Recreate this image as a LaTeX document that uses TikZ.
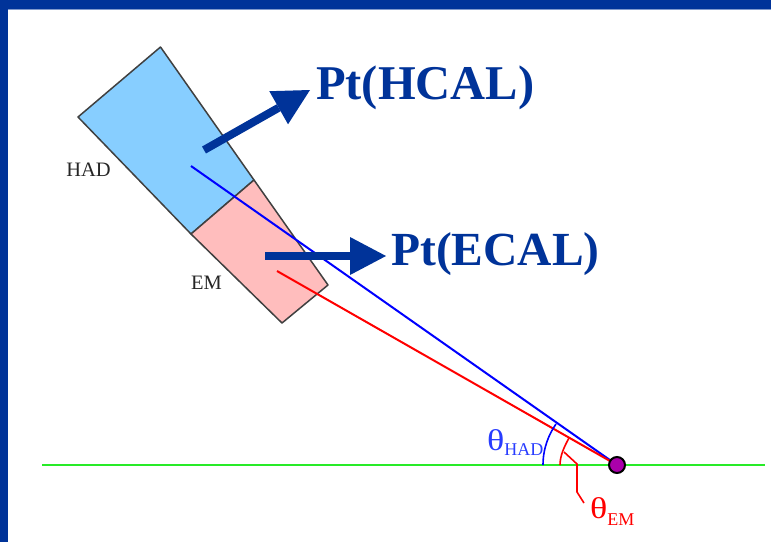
\documentclass[tikz,border=0pt]{standalone}
\usepackage{fontspec}
\setmainfont{Liberation Serif}
\usetikzlibrary{arrows.meta}
\definecolor{frameblue}{RGB}{0,51,153}
\definecolor{hadfill}{RGB}{135,206,255}
\definecolor{emfill}{RGB}{255,189,189}
\definecolor{dotfill}{RGB}{170,0,170}
\tikzset{
  x=1pt,y=-1pt,
  tower/.style={draw=black!75,line width=1.5pt,line join=round},
  bigtext/.style={font=\fontsize{48.5}{48.5}\selectfont\bfseries,text=frameblue,inner sep=0pt,anchor=base west},
  smalltext/.style={font=\fontsize{20.5}{20.5}\selectfont,text=black!85,inner sep=0pt},
  thetatext/.style={font=\fontsize{30}{30}\selectfont,inner sep=0pt,anchor=base west},
  bigarrow/.style={draw=frameblue,line width=8pt,-{Triangle[length=36pt,width=38pt,line width=0pt]}},
  ray/.style={line width=2pt},
}
\newcommand{\wtheta}{\scalebox{1.2}[1]{θ}}
\newcommand{\subtxt}[2]{\raisebox{#1}{\fontsize{18}{18}\selectfont #2}}
\begin{document}
\begin{tikzpicture}
\useasboundingbox (0,0) rectangle (771,542);
\fill[white] (0,0) rectangle (771,542);
\fill[frameblue] (0,0) rectangle (771,9);
\fill[frameblue] (0,0) rectangle (8,542);
\fill[frameblue!50!white] (8,9) rectangle (771,10);
% towers
\coordinate (hadT) at (160.5,47);
\coordinate (hadL) at (78,117);
\coordinate (midL) at (191,234);
\coordinate (midR) at (254,180);
\coordinate (emR) at (328,285);
\coordinate (emB) at (282,323);
\draw[tower,fill=hadfill] (hadT) -- (hadL) -- (midL) -- (midR) -- cycle;
\draw[tower,fill=emfill] (midL) -- (midR) -- (emR) -- (emB) -- cycle;
% beam
\coordinate (beamL) at (42,465);
\coordinate (beamR) at (765,465);
\draw[draw={rgb,255:red,40;green,235;blue,40},line width=2.4pt] (beamL) -- (beamR);
% rays
\coordinate (ip) at (617,465);
\coordinate (blueEnd) at (191,166);
\coordinate (redEnd) at (277,271);
\draw[ray,blue] (blueEnd) -- (ip);
\draw[ray,red] (redEnd) -- (ip);
\node[circle,draw=black,line width=2pt,fill=dotfill,minimum size=16pt,inner sep=0pt] (vertex) at (ip) {};
% angle arcs
\coordinate (ha) at (543,465);
\coordinate (hb) at (556,424);
\coordinate (ea) at (560,465);
\coordinate (eb) at (569,438);
\draw[blue,line width=1.6pt] (ha) .. controls (543,448) and (549,434) .. (hb);
\draw[red,line width=1.6pt] (ea) .. controls (560,456) and (564,447) .. (eb);
\coordinate (la) at (564,452);
\coordinate (lb) at (577,464);
\coordinate (lc) at (577,492);
\coordinate (ld) at (584,503);
\draw[red,line width=1.6pt] (la) -- (lb) -- (lc) -- (ld);
% labels
\node[smalltext] (hadlabel) at (88.5,170) {HAD};
\node[smalltext] (emlabel) at (206.5,283) {EM};
\node[thetatext,text={rgb,255:red,40;green,60;blue,255}] (thetahad) at (487,450) {\wtheta\subtxt{-5pt}{HAD}};
\node[thetatext,text=red] (thetaem) at (590,518) {\wtheta\subtxt{-7pt}{EM}};
% big arrows
\coordinate (hcalS) at (204,150);
\coordinate (hcalE) at (310,90);
\coordinate (ecalS) at (265,256);
\coordinate (ecalE) at (386,256);
\draw[bigarrow] (hcalS) -- (hcalE);
\draw[bigarrow] (ecalS) -- (ecalE);
\node[bigtext] (hcal) at (316,99.5) {Pt(HCAL)};
\node[bigtext,font=\fontsize{47.5}{47.5}\selectfont\bfseries] (ecal) at (391,265) {Pt(ECAL)};
\end{tikzpicture}
\end{document}
